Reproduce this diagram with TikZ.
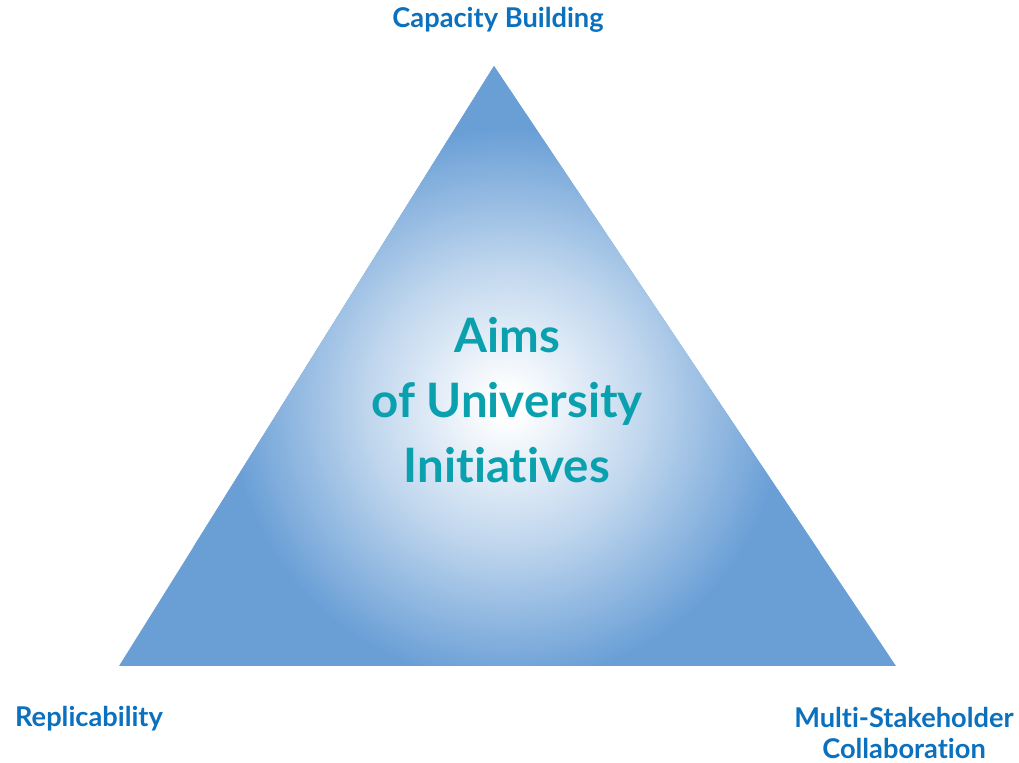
\documentclass[tikz,border=0pt]{standalone}
\usepackage{fontspec}
\setmainfont{Lato}[Ligatures={NoCommon,NoDiscretionary}]
\usetikzlibrary{positioning}

\definecolor{triblue}{HTML}{6A9FD6}
\definecolor{labelblue}{HTML}{0B70BE}
\definecolor{aimteal}{HTML}{0AA0AE}

% white glow in the middle of the triangle
\pgfdeclareradialshading{triglow}{\pgfpointorigin}{%
  color(0bp)=(white); color(1bp)=(white);
  color(10bp)=(triblue!42); color(20bp)=(triblue); color(50bp)=(triblue)}

\begin{document}
\begin{tikzpicture}[
  x=0.02cm, y=-0.02cm,
  corner/.style={
    font=\bfseries\fontsize{15.5}{17.6}\selectfont,
    text=labelblue,
    align=center,
    inner sep=0pt
  },
  aims/.style={
    font=\bfseries\fontsize{27}{36.9}\selectfont,
    text=aimteal,
    align=center,
    inner sep=0pt
  }]
  \useasboundingbox (0,0) rectangle (1019,763);
  % corners of the triangle
  \coordinate (top) at (494,66);
  \coordinate (left) at (119,666);
  \coordinate (right) at (896,666);
  \coordinate (glow) at (507,405);
  % shaded triangle
  \fill[triblue] (top) -- (left) -- (right) -- cycle;
  \begin{scope}
    \clip (top) -- (left) -- (right) -- cycle;
    \shade[shading=triglow] (glow) circle (345);
  \end{scope}
  % labels
  \node[corner] (capacity) at (498,20) {Capacity Building};
  \node[corner] (replicability) at (89,719) {Replicability};
  \node[corner] (multi) at (904,733) {Multi-Stakeholder\\Collaboration};
  \node[aims] (aimstext) at (507,400) {Aims\\of University\\Initiatives};
\end{tikzpicture}
\end{document}
